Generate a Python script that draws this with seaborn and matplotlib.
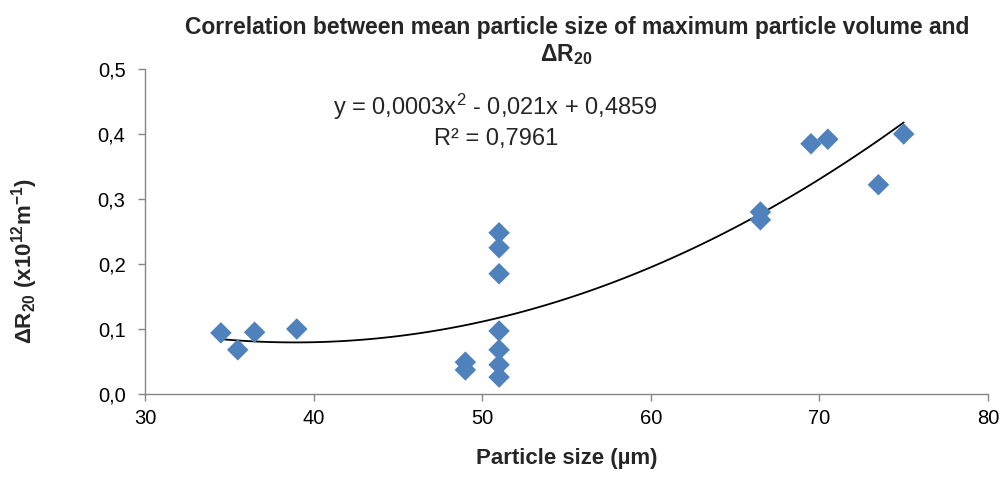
import numpy as np
import pandas as pd
import matplotlib
matplotlib.use("Agg")
import matplotlib.pyplot as plt
import seaborn as sns

# particle size (um) vs delta R20 (x10^12 m^-1)
particle_size = [34.5, 35.5, 36.5, 39.0, 49.0, 49.0,
                 51.0, 51.0, 51.0, 51.0, 51.0, 51.0, 51.0,
                 66.5, 66.5, 69.5, 70.5, 73.5, 75.0]
delta_r20 = [0.094, 0.068, 0.095, 0.100, 0.049, 0.037,
             0.248, 0.225, 0.185, 0.097, 0.068, 0.045, 0.026,
             0.280, 0.268, 0.385, 0.392, 0.322, 0.400]

x_ticks = [30, 40, 50, 60, 70, 80]
y_ticks = [0.0, 0.1, 0.2, 0.3, 0.4, 0.5]
y_ticklabels = ["0,0", "0,1", "0,2", "0,3", "0,4", "0,5"]

equation = "y = 0,0003x$^{2}$ - 0,021x + 0,4859"
r_squared = "R² = 0,7961"

df = pd.DataFrame({"size": particle_size, "dr20": delta_r20})

sns.set_theme(style="white")
plt.rcParams['font.family'] = ['Liberation Sans', 'DejaVu Sans']
plt.rcParams['mathtext.fontset'] = 'custom'
plt.rcParams['mathtext.rm'] = 'Liberation Sans'
plt.rcParams['mathtext.bf'] = 'Liberation Sans:bold'
plt.rcParams['mathtext.it'] = 'Liberation Sans:italic'

fig = plt.figure(figsize=(10.05, 4.86), dpi=100)
ax = fig.add_axes([0.1443, 0.1893, 0.8388, 0.6687])

# second order trendline, like the spreadsheet's polynomial fit
sns.regplot(data=df, x="size", y="dr20", order=2, ci=None, scatter=False,
            truncate=True, color="black", line_kws={"linewidth": 1.3}, ax=ax)
sns.scatterplot(data=df, x="size", y="dr20", marker="D", s=120,
                color="#4F81BD", edgecolor="none", ax=ax, zorder=3)

ax.set_xlim(30, 80)
ax.set_ylim(0, 0.5)
ax.set_xticks(x_ticks)
ax.set_yticks(y_ticks)
ax.set_yticklabels(y_ticklabels)
ax.tick_params(axis="both", labelsize=14.5, colors="black", direction="out",
               length=5, width=1, bottom=True, left=True)
ax.tick_params(axis="both", color="#868686")
ax.tick_params(axis="y", pad=9)
ax.tick_params(axis="x", pad=6)

for side in ["top", "right"]:
    ax.spines[side].set_visible(False)
for side in ["left", "bottom"]:
    ax.spines[side].set_color("#868686")
    ax.spines[side].set_linewidth(1)

ax.set_xlabel("Particle size (µm)", fontsize=16, fontweight="bold", labelpad=14)
ax.set_ylabel(r"$\mathbf{\Delta R_{20}}$ $\mathbf{(x10^{12}m^{-1})}$", fontsize=16)
ax.yaxis.set_label_coords(-0.124, 0.41)

fig.text(0.574, 0.944,
         "Correlation between mean particle size of maximum particle volume and",
         ha="center", va="center", fontsize=16.5, fontweight="bold")
fig.text(0.563, 0.887, r"$\mathbf{\Delta R_{20}}$",
         ha="center", va="center", fontsize=16.5)

ax.text(50.8, 0.442, equation, ha="center", va="center", fontsize=17)
ax.text(50.8, 0.393, r_squared, ha="center", va="center", fontsize=17)

fig.savefig("out.png", dpi=100)
